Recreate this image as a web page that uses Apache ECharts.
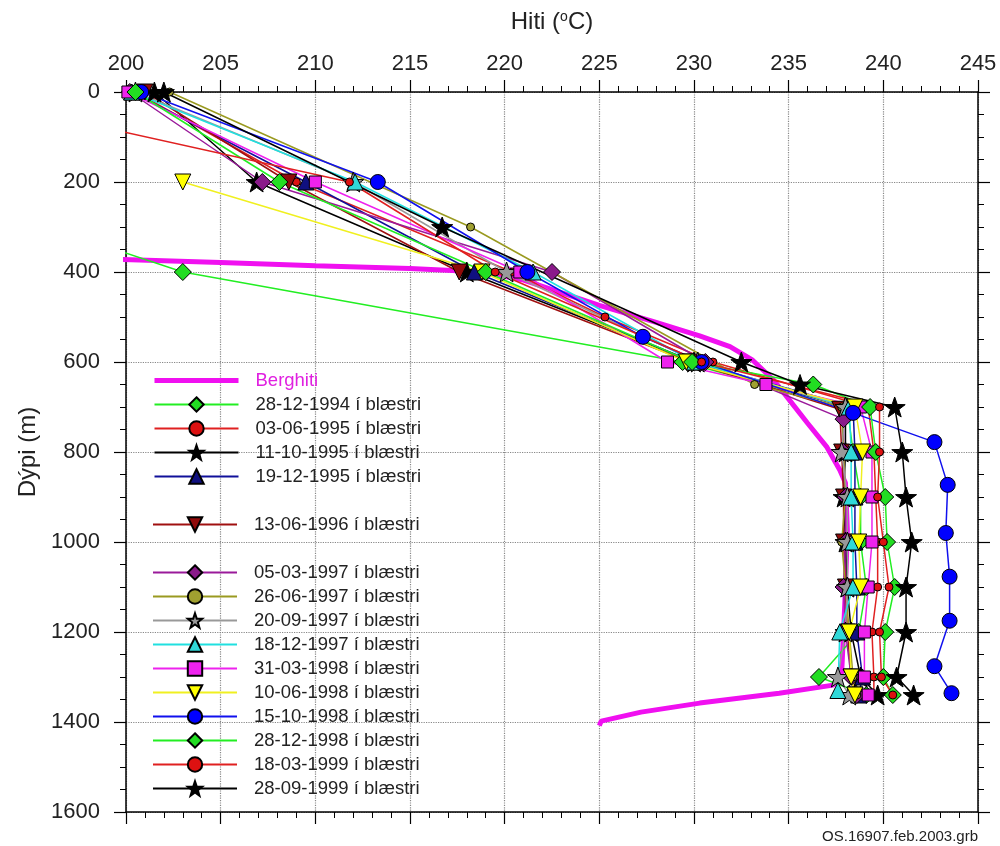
<!DOCTYPE html>
<html>
<head>
<meta charset="utf-8">
<script src="https://cdn.jsdelivr.net/npm/echarts@6.0.0/dist/echarts.min.js"></script>
<style>
  html, body { margin: 0; padding: 0; background: #fff; }
  #main { width: 1000px; height: 846px; }
</style>
</head>
<body>
<div id="main"></div>
<script>
// [hiti, dýpi] pör, lesin af myndinni
var berghiti = [[199.5,372],[205,379],[210,386],[215,392],[217.5,397],[219,402],[221,418],[225,474],[228,512],[230.3,542],
  [231.9,566],[233.1,596],[234.2,640],[234.9,677],[236.0,736],[237.0,788],[237.7,840],[238.0,869],[238.1,973],[238.0,1100],
  [237.9,1200],[237.8,1290],[237.35,1318],[234.5,1336],[230.3,1358],[227.2,1378],[225.1,1398],[225.0,1408]];
var d281294 = [[188.7,200],[203.0,400],[229.4,600],[238.1,700],[238.4,800],[238.8,900],[238.8,1000],[239.1,1100],[238.7,1200],[236.6,1300],[239.1,1340]];
var d030695 = [[200.5,0],[209.0,200],[220.4,400],[225.3,500],[231.0,600],[239.2,700],[239.5,800],[239.6,900],[239.7,1000],[239.7,1100],[239.4,1200],[239.5,1300],[239.5,1340]];
var d111095 = [[201.5,0],[206.9,200],[218.0,400],[230.0,600],[238.0,700],[238.0,800],[237.9,900],[238.0,1000],[238.1,1100],[238.3,1200],[238.8,1300],[239.7,1340]];
var d191295 = [[200.3,0],[209.5,200],[218.4,400],[230.0,600],[238.4,700],[238.5,800],[238.5,900],[238.5,1000],[238.6,1100],[238.6,1200],[238.9,1300],[238.7,1340]];
var d130696 = [[201.0,0],[208.6,200],[217.6,400],[229.8,600],[237.7,705],[237.8,800],[237.9,900],[237.9,1000],[238.0,1100],[238.1,1200],[238.3,1300],[238.5,1340]];
var d050397 = [[200.2,0],[207.2,200],[222.5,400],[230.6,600],[237.9,727],[237.9,800],[238.0,900],[238.0,1000],[237.9,1100],[238.0,1200],[238.3,1300],[238.6,1340]];
var d260697 = [[202.3,0],[218.2,300],[233.2,650],[237.8,700],[237.9,800],[238.0,900],[237.8,1000],[238.0,1100],[238.2,1200],[238.4,1300],[238.6,1340]];
var d200997 = [[200.5,0],[212.0,200],[220.1,400],[230.2,600],[238.0,700],[237.8,800],[238.1,900],[238.1,1000],[238.1,1100],[238.0,1200],[237.6,1300],[238.2,1340]];
var d181297 = [[200.3,0],[212.1,200],[221.5,400],[230.0,600],[238.2,700],[238.3,800],[238.3,900],[238.4,1000],[238.4,1100],[237.7,1200],[237.6,1330]];
var d310398 = [[200.1,0],[210.0,200],[220.8,400],[228.6,600],[233.8,650],[238.8,700],[239.4,800],[239.4,900],[239.4,1000],[239.2,1100],[239.0,1200],[239.0,1300],[239.2,1340]];
var d100698 = [[203.0,200],[218.8,400],[229.6,600],[238.5,700],[238.9,800],[238.8,900],[238.7,1000],[238.8,1100],[238.2,1200],[238.3,1300],[238.5,1340]];
var d151098 = [[200.8,0],[213.3,200],[221.2,400],[227.3,544],[230.4,600],[238.4,713],[242.7,778],[243.4,873],[243.3,980],[243.5,1077],[243.5,1175],[242.7,1276],[243.6,1336]];
var d281298 = [[200.5,0],[208.1,200],[219.0,400],[229.9,600],[236.3,650],[239.3,700],[239.6,800],[240.1,900],[240.2,1000],[240.6,1100],[240.1,1200],[240.0,1300],[240.5,1340]];
var d180399 = [[190.4,0],[211.8,200],[219.5,400],[230.4,600],[239.8,700],[239.8,800],[239.7,900],[240.0,1000],[240.3,1100],[239.8,1200],[239.9,1300],[240.5,1340]];
var d280999 = [[202.0,0],[216.7,300],[232.5,600],[235.6,650],[240.6,700],[241.0,800],[241.2,900],[241.5,1000],[241.2,1100],[241.2,1200],[240.7,1300],[241.6,1340]];

var fontName = 'Liberation Sans, Arial, sans-serif';
var star = 'path://M0,-10L2.35,-3.24L9.51,-3.09L3.8,1.24L5.88,8.09L0,4L-5.88,8.09L-3.8,1.24L-9.51,-3.09L-2.35,-3.24Z';

function mk(name, data, color, symbol, size, fill, rotate) {
  return {
    name: name,
    type: 'line',
    data: data,
    symbol: symbol,
    symbolSize: size,
    symbolRotate: rotate || 0,
    symbolKeepAspect: true,
    showAllSymbol: true,
    lineStyle: { color: color, width: 1.5 },
    itemStyle: { color: fill, borderColor: '#000', borderWidth: 1 },
    emphasis: { disabled: true },
    animation: false
  };
}

var series = [
  {
    name: 'Berghiti', type: 'line', data: berghiti, symbol: 'none', smooth: false,
    lineStyle: { color: '#f010f0', width: 5 }, itemStyle: { color: '#f010f0' },
    emphasis: { disabled: true }, animation: false
  },
  mk('28-12-1994 í blæstri', d281294, '#22ee22', 'diamond', 17, '#22dd22'),
  mk('03-06-1995 í blæstri', d030695, '#e02020', 'circle', 8, '#dd1111'),
  mk('11-10-1995 í blæstri', d111095, '#000', star, 21, '#000'),
  mk('19-12-1995 í blæstri', d191295, '#10109a', 'triangle', 16, '#101080'),
  mk('13-06-1996 í blæstri', d130696, '#a01010', 'triangle', 16, '#900a0a', 180),
  mk('05-03-1997 í blæstri', d050397, '#9a1a9a', 'diamond', 17, '#8a1a8a'),
  mk('26-06-1997 í blæstri', d260697, '#9a9a20', 'circle', 8, '#a0a030'),
  mk('20-09-1997 í blæstri', d200997, '#999', star, 21, '#999'),
  mk('18-12-1997 í blæstri', d181297, '#20e0e0', 'triangle', 16, '#30d8d8'),
  mk('31-03-1998 í blæstri', d310398, '#ee22ee', 'rect', 12, '#ee22ee'),
  mk('10-06-1998 í blæstri', d100698, '#f0f020', 'triangle', 16, '#ffff00', 180),
  mk('15-10-1998 í blæstri', d151098, '#1010ee', 'circle', 15, '#0000ff'),
  mk('28-12-1998 í blæstri', d281298, '#22ee22', 'diamond', 17, '#22dd22'),
  mk('18-03-1999 í blæstri', d180399, '#e02020', 'circle', 8, '#dd1111'),
  mk('28-09-1999 í blæstri', d280999, '#000', star, 21, '#000')
];

function legendBox(names, top) {
  return {
    orient: 'vertical', left: 152, top: top,
    itemWidth: 84, itemHeight: 18, itemGap: 5,
    selectedMode: false, padding: 0,
    textStyle: { fontFamily: fontName, fontSize: 18.5, color: '#222', lineHeight: 18, padding: [0, 0, 0, 12] },
    data: names.map(function (n) {
      if (n === 'Berghiti') {
        return {
          name: n, textStyle: { color: '#e020e0' },
          itemStyle: { color: 'rgba(0,0,0,0)', borderWidth: 0, opacity: 0 },
          lineStyle: { color: '#f010f0', width: 5 }
        };
      }
      return { name: n };
    })
  };
}

var tickStyle = { show: true, length: 12, lineStyle: { color: '#000', width: 1.2 } };
var minorStyle = { show: true, length: 6, lineStyle: { color: '#000', width: 1 } };
var gridLine = { show: true, lineStyle: { color: '#888', type: 'dotted', width: 1.2 } };
var axisLine = { show: true, onZero: false, lineStyle: { color: '#000', width: 1.5 } };

var myChart = echarts.init(document.getElementById('main'));
var option = {
  animation: false,
  textStyle: { fontFamily: fontName },
  grid: { left: 126, top: 92, right: 22, bottom: 34, containLabel: false, outerBoundsMode: 'none' },
  legend: [
    legendBox(['Berghiti', '28-12-1994 í blæstri', '03-06-1995 í blæstri', '11-10-1995 í blæstri', '19-12-1995 í blæstri'], 371),
    legendBox(['13-06-1996 í blæstri'], 515),
    legendBox(['05-03-1997 í blæstri', '26-06-1997 í blæstri', '20-09-1997 í blæstri', '18-12-1997 í blæstri',
      '31-03-1998 í blæstri', '10-06-1998 í blæstri', '15-10-1998 í blæstri', '28-12-1998 í blæstri',
      '18-03-1999 í blæstri', '28-09-1999 í blæstri'], 563)
  ],
  xAxis: [
    {
      type: 'value', position: 'top', min: 200, max: 245, interval: 5,
      name: 'Hiti ({sup|o}C)', nameLocation: 'middle', nameGap: 58,
      nameTextStyle: { fontSize: 24, color: '#222', rich: { sup: { fontSize: 14, verticalAlign: 'top', lineHeight: 14 } } },
      axisLine: axisLine, axisTick: tickStyle, minorTick: Object.assign({ splitNumber: 5 }, minorStyle),
      splitLine: gridLine,
      axisLabel: { fontSize: 22, color: '#222', margin: 17 }
    },
    {
      type: 'value', position: 'bottom', min: 200, max: 245, interval: 5,
      axisLine: axisLine, axisTick: tickStyle, minorTick: Object.assign({ splitNumber: 5 }, minorStyle),
      splitLine: { show: false }, axisLabel: { show: false }
    }
  ],
  yAxis: [
    {
      type: 'value', inverse: true, position: 'left', min: 0, max: 1600, interval: 200,
      name: 'Dýpi (m)', nameLocation: 'middle', nameGap: 84, nameRotate: 90,
      nameTextStyle: { fontSize: 24, color: '#222' },
      axisLine: axisLine, axisTick: tickStyle, minorTick: Object.assign({ splitNumber: 4 }, minorStyle),
      splitLine: gridLine,
      axisLabel: { fontSize: 22, color: '#222', margin: 26, formatter: function (v) { return String(v); } }
    },
    {
      type: 'value', inverse: true, position: 'right', min: 0, max: 1600, interval: 200,
      axisLine: axisLine, axisTick: tickStyle, minorTick: Object.assign({ splitNumber: 4 }, minorStyle),
      splitLine: { show: false }, axisLabel: { show: false }
    }
  ],
  graphic: [
    { type: 'text', right: 22, bottom: 2, style: { text: 'OS.16907.feb.2003.grb', font: '15px Liberation Sans', fill: '#222' } }
  ],
  series: series
};
myChart.setOption(option);
</script>
</body>
</html>
